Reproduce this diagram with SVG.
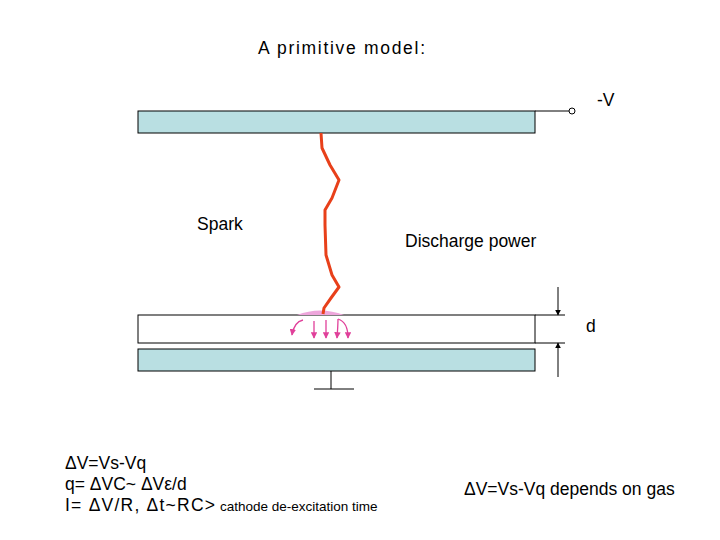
<svg xmlns="http://www.w3.org/2000/svg" width="720" height="540" viewBox="0 0 720 540">
<defs>
<style>
text{font-family:"Liberation Sans",Arial,sans-serif;fill:#000;font-size:17.5px}
text.sm{font-size:13.5px}
.plate{fill:#b9dfe2;stroke:#000;stroke-width:1}
.ln{stroke:#000;stroke-width:1;fill:none}
.pk{stroke:#e0409a;stroke-width:1.3;fill:none}
</style>
<marker id="ah" viewBox="0 0 10 10" refX="9" refY="5" markerWidth="6" markerHeight="6" orient="auto"><path d="M0,0L10,5L0,10z" fill="#000"/></marker>
<marker id="pa" viewBox="0 0 10 10" refX="9" refY="5" markerWidth="5" markerHeight="5" orient="auto"><path d="M0,0L10,5L0,10z" fill="#e0409a"/></marker>
</defs>
<rect width="720" height="540" fill="#fff"/>
<text x="258" y="54" textLength="167" lengthAdjust="spacing">A primitive model:</text>
<g id="top-plate"><rect class="plate" x="138" y="111" width="397" height="22"/>
<line class="ln" x1="535" y1="111" x2="569" y2="111"/><circle cx="572" cy="111" r="3" fill="#fff" stroke="#000"/>
<text x="597" y="106">-V</text></g>
<g id="gas-gap"><rect x="138" y="315" width="397" height="28" fill="#fff" stroke="#000"/></g>
<g id="bottom-plate"><rect class="plate" x="138" y="349" width="397" height="22"/>
<line class="ln" x1="331" y1="371" x2="331" y2="389"/><line class="ln" x1="314" y1="389" x2="354" y2="389"/></g>
<g id="spark">
<path d="M297,315 Q320,306 344,315 Z" fill="#eea6dc"/>
<polyline points="321,133 322,148 330,165 339,180 332,198 325,210 325,225 326,255 332,275 339,287 331,298 324,308 323,314" fill="none" stroke="#e8401a" stroke-width="3" stroke-linejoin="round"/>
<path class="pk" d="M303,320 Q294,322 292,335" marker-end="url(#pa)"/>
<line class="pk" x1="314" y1="321" x2="314" y2="338" marker-end="url(#pa)"/>
<line class="pk" x1="326" y1="320" x2="326" y2="338" marker-end="url(#pa)"/>
<path class="pk" d="M338,319 Q338,325 337,338" marker-end="url(#pa)"/>
<path class="pk" d="M338,319 Q348,322 348,338" marker-end="url(#pa)"/>
</g>
<text x="197" y="230">Spark</text>
<text x="405" y="247">Discharge power</text>
<g id="dim">
<line class="ln" x1="535" y1="315" x2="565" y2="315"/><line class="ln" x1="535" y1="343" x2="565" y2="343"/>
<line class="ln" x1="558" y1="287" x2="558" y2="315" marker-end="url(#ah)"/>
<line class="ln" x1="558" y1="377" x2="558" y2="343" marker-end="url(#ah)"/>
<text x="586" y="332">d</text></g>
<text x="65" y="469">ΔV=Vs-Vq</text>
<text x="65" y="490">q= ΔVC~ ΔVε/d</text>
<text x="65" y="511" textLength="150" lengthAdjust="spacing">I= ΔV/R, Δt~RC&gt;</text>
<text class="sm" x="220" y="511">cathode de-excitation time</text>
<text x="464" y="495">ΔV=Vs-Vq depends on gas</text>
</svg>
